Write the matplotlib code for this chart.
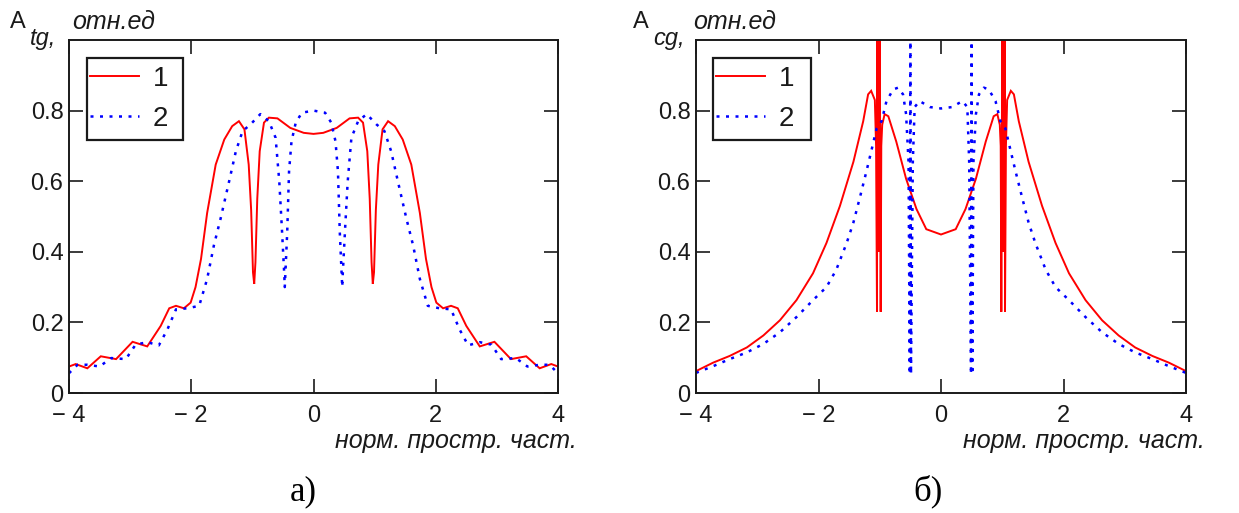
import matplotlib
matplotlib.use("Agg")
import matplotlib.pyplot as plt
from matplotlib.patches import Rectangle

# ---------------- data ----------------
# panel a) A_tg, curve 1 (red solid)
a1_x = [-4.00, -3.89, -3.70, -3.48, -3.23, -2.96, -2.72, -2.50, -2.36, -2.25, -2.12, -2.01,
        -1.93, -1.84, -1.74, -1.60, -1.46, -1.33, -1.22, -1.13, -1.06, -1.02, -0.99, -0.97,
        -0.95, -0.92, -0.88, -0.81, -0.73, -0.59, -0.38, -0.16, 0.00,
        0.16, 0.38, 0.59, 0.73, 0.81, 0.88, 0.92, 0.95, 0.97, 0.99, 1.02, 1.06, 1.13, 1.22,
        1.33, 1.46, 1.60, 1.74, 1.84, 1.93, 2.01, 2.12, 2.25, 2.36, 2.50, 2.72, 2.96, 3.23,
        3.48, 3.70, 3.89, 4.00]
a1_y = [0.075, 0.082, 0.070, 0.104, 0.096, 0.145, 0.132, 0.190, 0.240, 0.247, 0.240, 0.256,
        0.300, 0.380, 0.510, 0.647, 0.718, 0.756, 0.770, 0.747, 0.647, 0.518, 0.342, 0.309,
        0.370, 0.550, 0.685, 0.766, 0.780, 0.778, 0.751, 0.737, 0.734,
        0.737, 0.751, 0.778, 0.780, 0.766, 0.685, 0.550, 0.370, 0.309, 0.342, 0.518, 0.647,
        0.747, 0.770, 0.756, 0.718, 0.647, 0.510, 0.380, 0.300, 0.256, 0.240, 0.247, 0.240,
        0.190, 0.132, 0.145, 0.096, 0.104, 0.070, 0.082, 0.075]

# panel a) A_tg, curve 2 (blue dotted)
a2_x = [-4.00, -3.86, -3.70, -3.50, -3.31, -3.07, -2.91, -2.72, -2.53, -2.39, -2.25, -2.06,
        -1.87, -1.74, -1.63, -1.52, -1.38, -1.27, -1.16, -1.03, -0.87, -0.73, -0.62, -0.56,
        -0.52, -0.48, -0.47, -0.43, -0.40, -0.36, -0.29, -0.19, 0.00,
        0.19, 0.29, 0.36, 0.40, 0.43, 0.47, 0.48, 0.52, 0.56, 0.62, 0.73, 0.87, 1.03, 1.16,
        1.27, 1.38, 1.52, 1.63, 1.74, 1.87, 2.06, 2.25, 2.39, 2.53, 2.72, 2.91, 3.07, 3.31,
        3.50, 3.70, 3.86, 4.00]
a2_y = [0.056, 0.080, 0.080, 0.075, 0.099, 0.096, 0.137, 0.144, 0.135, 0.180, 0.237, 0.240,
        0.247, 0.323, 0.418, 0.494, 0.600, 0.685, 0.742, 0.761, 0.790, 0.770, 0.723, 0.600,
        0.475, 0.342, 0.300, 0.456, 0.628, 0.713, 0.766, 0.794, 0.800,
        0.794, 0.766, 0.713, 0.628, 0.456, 0.300, 0.342, 0.475, 0.600, 0.723, 0.770, 0.790,
        0.761, 0.742, 0.685, 0.600, 0.494, 0.418, 0.323, 0.247, 0.240, 0.237, 0.180, 0.135,
        0.144, 0.137, 0.096, 0.099, 0.075, 0.080, 0.080, 0.056]

# panel b) A_cg, curve 1 (red solid)
b1_x = [-4.00, -3.72, -3.45, -3.17, -2.90, -2.63, -2.36, -2.09, -1.87, -1.65, -1.43, -1.27,
        -1.19, -1.14, -1.08, -1.06, -1.045, -1.040, -1.035, -1.030, -1.025, -1.020, -1.015,
        -1.010, -1.005, -1.000, -0.985, -0.975, -0.96, -0.92, -0.86, -0.73, -0.57, -0.40,
        -0.24, 0.00,
        0.24, 0.40, 0.57, 0.73, 0.86, 0.92, 0.96, 0.975, 0.985, 1.000, 1.005, 1.010, 1.015,
        1.020, 1.025, 1.030, 1.035, 1.040, 1.045, 1.06, 1.08, 1.14, 1.19, 1.27, 1.43, 1.65,
        1.87, 2.09, 2.36, 2.63, 2.90, 3.17, 3.45, 3.72, 4.00]
b1_y = [0.062, 0.086, 0.105, 0.129, 0.163, 0.206, 0.263, 0.339, 0.425, 0.530, 0.655, 0.770,
        0.846, 0.856, 0.830, 0.700, 0.230, 1.050, 0.400, 1.050, 0.400, 1.050, 0.400,
        1.050, 0.400, 1.050, 0.230, 0.700, 0.760, 0.790, 0.784, 0.712, 0.607, 0.521,
        0.464, 0.449,
        0.464, 0.521, 0.607, 0.712, 0.784, 0.790, 0.760, 0.700, 0.230, 1.050, 0.400, 1.050,
        0.400, 1.050, 0.400, 1.050, 0.400, 1.050, 0.230, 0.700, 0.830, 0.856, 0.846, 0.770,
        0.655, 0.530, 0.425, 0.339, 0.263, 0.206, 0.163, 0.129, 0.105, 0.086, 0.062]

# panel b) A_cg, curve 2 (blue dotted)
b2_x = [-4.00, -3.72, -3.45, -3.17, -2.90, -2.63, -2.36, -2.09, -1.87, -1.71, -1.54, -1.43,
        -1.33, -1.22, -1.14, -1.05, -0.97, -0.89, -0.78, -0.70, -0.62, -0.57, -0.53, -0.51,
        -0.50, -0.49, -0.46, -0.43, -0.35, -0.18, 0.00,
        0.18, 0.35, 0.43, 0.46, 0.49, 0.50, 0.51, 0.53, 0.57, 0.62, 0.70, 0.78, 0.89, 0.97,
        1.05, 1.14, 1.22, 1.33, 1.43, 1.54, 1.71, 1.87, 2.09, 2.36, 2.63, 2.90, 3.17, 3.45,
        3.72, 4.00]
b2_y = [0.057, 0.076, 0.096, 0.115, 0.139, 0.172, 0.215, 0.263, 0.300, 0.349, 0.425, 0.483,
        0.550, 0.626, 0.684, 0.750, 0.770, 0.827, 0.860, 0.865, 0.846, 0.790, 0.655, 0.053,
        1.050, 0.053, 0.655, 0.810, 0.827, 0.810, 0.806,
        0.810, 0.827, 0.810, 0.655, 0.053, 1.050, 0.053, 0.655, 0.790, 0.846, 0.865, 0.860,
        0.827, 0.770, 0.750, 0.684, 0.626, 0.550, 0.483, 0.425, 0.349, 0.300, 0.263, 0.215,
        0.172, 0.139, 0.115, 0.096, 0.076, 0.057]

x_ticks = [-4, -2, 0, 2, 4]
x_tick_labels = ["\u2212 4", "\u2212 2", "0", "2", "4"]
y_ticks = [0, 0.2, 0.4, 0.6, 0.8]
y_tick_labels = ["0", "0.2", "0.4", "0.6", "0.8"]
legend_labels = ["1", "2"]
x_label = "норм. простр. част."
y_unit = "отн.ед"
subscripts = ["tg,", "cg,"]
captions = ["а)", "б)"]

# ---------------- styling ----------------
SANS = ["Liberation Sans", "DejaVu Sans"]
SERIF = ["Liberation Serif", "DejaVu Serif"]
INK = "#1a1a1a"

W, H = 1239, 513
fig = plt.figure(figsize=(W / 100, H / 100), dpi=100)
fig.patch.set_facecolor("white")


def fx(x):
    return x / W


def fy(y):
    return 1 - y / H


panels = [
    dict(left=69, right=558, data=[(a1_x, a1_y), (a2_x, a2_y)], box=(87, 58, 183, 140),
         A=(10, 28), sub=(30, 45), unit=(72, 29), cap=(303, 500)),
    dict(left=696, right=1186, data=[(b1_x, b1_y), (b2_x, b2_y)], box=(713, 58, 811, 140),
         A=(633, 28), sub=(653, 45), unit=(693, 29), cap=(928, 500)),
]
top, bottom = 40, 393

for i, p in enumerate(panels):
    ax = fig.add_axes([fx(p["left"]), fy(bottom), (p["right"] - p["left"]) / W, (bottom - top) / H])
    (x1, y1), (x2, y2) = p["data"]
    l1, = ax.plot(x1, y1, color="#ff0000", lw=1.4, solid_joinstyle="miter")
    l2, = ax.plot(x2, y2, color="#0000ff", lw=1.8, linestyle=(0, (1.2, 2.6)))
    ax.set_xlim(-4, 4)
    ax.set_ylim(0, 1.0)
    ax.set_xticks(x_ticks)
    ax.set_xticklabels(x_tick_labels, fontfamily=SANS, fontsize=17)
    ax.set_yticks(y_ticks)
    ax.set_yticklabels(y_tick_labels, fontfamily=SANS, fontsize=17)
    for lab in ax.get_xticklabels():
        lab.set_x(lab.get_position()[0])
    ax.tick_params(direction="in", length=10, width=1.2, top=True, right=True,
                   color=INK, labelcolor=INK)
    ax.tick_params(axis="x", pad=9)
    ax.tick_params(axis="y", pad=4)
    for s in ax.spines.values():
        s.set_linewidth(1.4)
        s.set_color(INK)

    # legend: entries plus a square frame
    bx0, by0, bx1, by1 = p["box"]
    leg = ax.legend([l1, l2], legend_labels, loc="center left",
                    bbox_to_anchor=(fx(bx0 + 3), fy((by0 + by1) / 2)),
                    bbox_transform=fig.transFigure, borderaxespad=0, borderpad=0,
                    frameon=False, prop=dict(family=SANS, size=20),
                    handlelength=1.75, handletextpad=0.5, labelspacing=0.5)
    for t in leg.get_texts():
        t.set_color(INK)
    fig.patches.append(Rectangle((fx(bx0), fy(by1)), (bx1 - bx0) / W, (by1 - by0) / H,
                                 transform=fig.transFigure, fill=False, edgecolor=INK,
                                 linewidth=1.6, zorder=5))

    # axis titles
    fig.text(fx(p["A"][0]), fy(p["A"][1]), "A", fontfamily=SANS, fontsize=17,
             color=INK, va="baseline", ha="left")
    fig.text(fx(p["sub"][0]), fy(p["sub"][1]), subscripts[i], fontfamily=SANS, fontsize=17,
             style="italic", color=INK, va="baseline", ha="left")
    fig.text(fx(p["unit"][0]), fy(p["unit"][1]), y_unit, fontfamily=SANS, fontsize=18,
             style="italic", color=INK, va="baseline", ha="left")
    fig.text(fx(p["right"] + 19), fy(448), x_label, fontfamily=SANS, fontsize=18,
             style="italic", color=INK, va="baseline", ha="right")
    fig.text(fx(p["cap"][0]), fy(p["cap"][1]), captions[i], fontfamily=SERIF, fontsize=25,
             color="black", va="baseline", ha="center")

fig.savefig("out.png", dpi=100, facecolor="white")
